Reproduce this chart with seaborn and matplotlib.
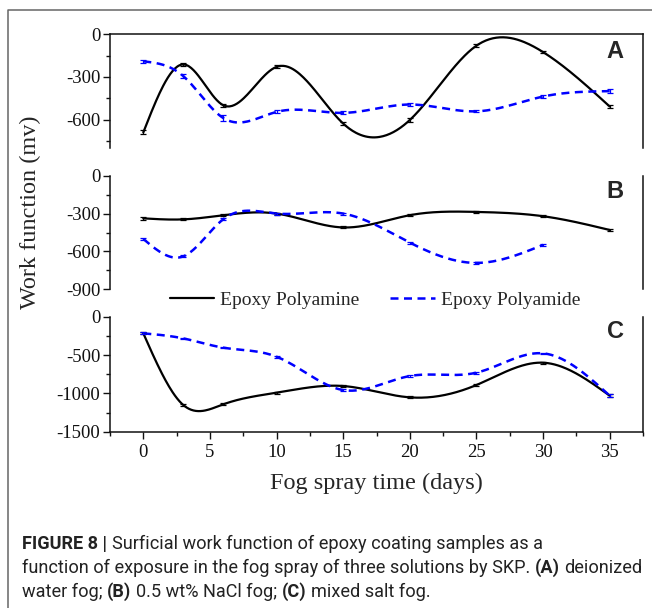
import numpy as np
import pandas as pd
import matplotlib
matplotlib.use("Agg")
import matplotlib.pyplot as plt
import seaborn as sns
from matplotlib.lines import Line2D
from matplotlib.ticker import MultipleLocator

# sampling days
days = [0, 3, 6, 10, 15, 20, 25, 30, 35]

# (A) deionized water fog
A_amine = [-690, -212, -499, -229, -628, -603, -80, -125, -508]
A_amide = [-190, -294, -589, -546, -553, -494, -542, -438, -400]
A_amine_err = [14, 10, 12, 10, 12, 12, 10, 8, 12]
A_amide_err = [10, 14, 20, 10, 10, 12, 8, 8, 12]

# (B) 0.5 wt% NaCl fog (polyamide has no day 35)
B_amine = [-338, -346, -313, -300, -410, -313, -287, -321, -430]
B_amide = [-501, -639, -345, -300, -300, -530, -691, -548]
B_amine_err = [10, 8, 8, 8, 8, 8, 8, 8, 10]
B_amide_err = [8, 8, 8, 8, 8, 8, 8, 8]

# (C) mixed salt fog
C_amine = [-217, -1152, -1143, -991, -904, -1052, -891, -600, -1030]
C_amide = [-217, -283, -404, -522, -957, -774, -730, -478, -1030]
C_amine_err = [15, 15, 12, 12, 12, 12, 12, 12, 20]
C_amide_err = [15, 10, 10, 12, 15, 12, 12, 10, 20]

panel_letters = ["A", "B", "C"]
legend_labels = ["Epoxy Polyamine", "Epoxy Polyamide"]
ylims = [(-800, 0), (-900, 0), (-1500, 0)]
ymajor = [300, 300, 500]
xlabel = "Fog spray time (days)"
ylabel = "Work function (mv)"
caption = [
    [("FIGURE 8 |", "bold"), ("Surficial work function of epoxy coating samples as a", "normal")],
    [("function of exposure in the fog spray of three solutions by SKP.", "normal"),
     ("(A)", "bold"), ("deionized", "normal")],
    [("water fog;", "normal"), ("(B)", "bold"), ("0.5 wt% NaCl fog;", "normal"),
     ("(C)", "bold"), ("mixed salt fog.", "normal")],
]


def smooth(x, y, n=400):
    # natural cubic spline through the measured points (Origin "spline" connect)
    x = np.asarray(x, float)
    y = np.asarray(y, float)
    h = np.diff(x)
    m = len(x)
    A = np.zeros((m, m))
    r = np.zeros(m)
    A[0, 0] = A[-1, -1] = 1
    for i in range(1, m - 1):
        A[i, i - 1] = h[i - 1]
        A[i, i] = 2 * (h[i - 1] + h[i])
        A[i, i + 1] = h[i]
        r[i] = 6 * ((y[i + 1] - y[i]) / h[i] - (y[i] - y[i - 1]) / h[i - 1])
    M = np.linalg.solve(A, r)
    xs = np.linspace(x[0], x[-1], n)
    k = np.clip(np.searchsorted(x, xs) - 1, 0, m - 2)
    t0 = x[k + 1] - xs
    t1 = xs - x[k]
    hk = h[k]
    ys = (M[k] * t0 ** 3 + M[k + 1] * t1 ** 3) / (6 * hk) \
        + (y[k] / hk - M[k] * hk / 6) * t0 + (y[k + 1] / hk - M[k + 1] * hk / 6) * t1
    return xs, ys


sns.set_theme(style="ticks")
plt.rcParams["font.family"] = ["Liberation Serif", "DejaVu Serif"]
plt.rcParams["axes.unicode_minus"] = False
plt.rcParams["xtick.direction"] = "out"
plt.rcParams["ytick.direction"] = "out"

W, H = 652, 608
fig = plt.figure(figsize=(W / 100, H / 100), dpi=100)
fig.patch.set_facecolor("white")

left_px, right_px = 110, 643
boxes = [(34.3, 148.0), (175.7, 289.3), (316.7, 431.7)]
data = [
    (A_amine, A_amine_err, A_amide, A_amide_err),
    (B_amine, B_amine_err, B_amide, B_amide_err),
    (C_amine, C_amine_err, C_amide, C_amide_err),
]
blue = "#0000ff"
dash = (0, (3.2, 2.2))

axes = []
for i, (top, bot) in enumerate(boxes):
    ax = fig.add_axes([left_px / W, 1 - bot / H, (right_px - left_px) / W, (bot - top) / H])
    axes.append(ax)
    amine, amine_err, amide, amide_err = data[i]

    xs, ys = smooth(days, amine)
    sns.lineplot(x=xs, y=ys, ax=ax, color="black", lw=1.6, sort=False)
    d2 = days[:len(amide)]
    xs, ys = smooth(d2, amide)
    sns.lineplot(x=xs, y=ys, ax=ax, color=blue, lw=1.8, linestyle=dash, sort=False)
    ax.errorbar(days, amine, yerr=amine_err, fmt="none", ecolor="black",
                elinewidth=0.9, capsize=2.5, capthick=0.9)
    ax.errorbar(d2, amide, yerr=amide_err, fmt="none", ecolor=blue,
                elinewidth=0.9, capsize=2.5, capthick=0.9)

    ax.set_xlim(-2.5, 37.5)
    ax.set_ylim(*ylims[i])
    ax.yaxis.set_major_locator(MultipleLocator(ymajor[i]))
    ax.yaxis.set_minor_locator(MultipleLocator(ymajor[i] / 2))
    ax.xaxis.set_major_locator(MultipleLocator(5))
    ax.xaxis.set_minor_locator(MultipleLocator(2.5))
    ax.tick_params(axis="y", which="major", length=5, width=1, labelsize=13.5, pad=2, colors="#111")
    ax.tick_params(axis="y", which="minor", length=3, width=1, colors="#111")
    ax.tick_params(axis="x", which="major", length=5, width=1, labelsize=13.5, pad=4, colors="#111")
    ax.tick_params(axis="x", which="minor", length=3, width=1, colors="#111")
    ax.set_facecolor("none")
    for s in ax.spines.values():
        s.set_linewidth(1.1)
        s.set_color("#111")
    ax.spines["top"].set_visible(i == 0)
    ax.spines["bottom"].set_visible(i == 2)
    ax.spines["right"].set_visible(True)
    if i < 2:
        ax.tick_params(axis="x", which="both", bottom=False, labelbottom=False)
    ax.set_xlabel("")
    ax.set_ylabel("")

for letter, y in zip(panel_letters, [52, 192, 332]):
    fig.text(615 / W, 1 - y / H, letter, ha="center", va="center", fontsize=17,
             fontweight="bold", family=["Liberation Sans", "DejaVu Sans"])

fig.text(376 / W, 1 - 483 / H, xlabel, ha="center", va="center", fontsize=17.5)
fig.text(30 / W, 1 - 212 / H, ylabel, ha="center", va="center", rotation=90, fontsize=17.5)

handles = [Line2D([], [], color="black", lw=1.6),
           Line2D([], [], color=blue, lw=1.8, linestyle=dash)]
fig.legend(handles, legend_labels, loc="center", bbox_to_anchor=(375 / W, 1 - 300 / H),
           ncol=2, frameon=False, fontsize=14, handlelength=2.3, handletextpad=0.3,
           columnspacing=1.6, borderpad=0)

# outer frame of the figure box
fig.add_artist(Line2D([8 / W, 8 / W, 1.0], [0.0, 1 - 10 / H, 1 - 10 / H],
                      color="#666", lw=1.1, transform=fig.transFigure))

# caption with mixed weights; size fitted so the longest line spans the box
cap_family = ["Roboto", "Liberation Sans", "DejaVu Sans"]
renderer = fig.canvas.get_renderer()


def line_width(parts, size):
    probe = fig.text(0, 0, "a a", fontsize=size, family=cap_family)
    sp = probe.get_window_extent(renderer).width
    probe.set_text("aa")
    sp -= probe.get_window_extent(renderer).width
    total = 0
    for txt, weight in parts:
        probe.set_text(txt)
        probe.set_fontweight(weight)
        total += probe.get_window_extent(renderer).width + sp
    probe.remove()
    return total - sp, sp


cap_size = 13.0
w, _ = line_width(caption[1], cap_size)
cap_size *= 616 / w
_, space = line_width(caption[1], cap_size)
for line, y in zip(caption, [544, 568, 592]):
    x = 22
    for txt, weight in line:
        t = fig.text(x / W, 1 - y / H, txt, fontsize=cap_size, fontweight=weight,
                     family=cap_family, va="center", ha="left", color="#222")
        x += t.get_window_extent(renderer).width + space

fig.savefig("out.png", dpi=100, facecolor="white")
